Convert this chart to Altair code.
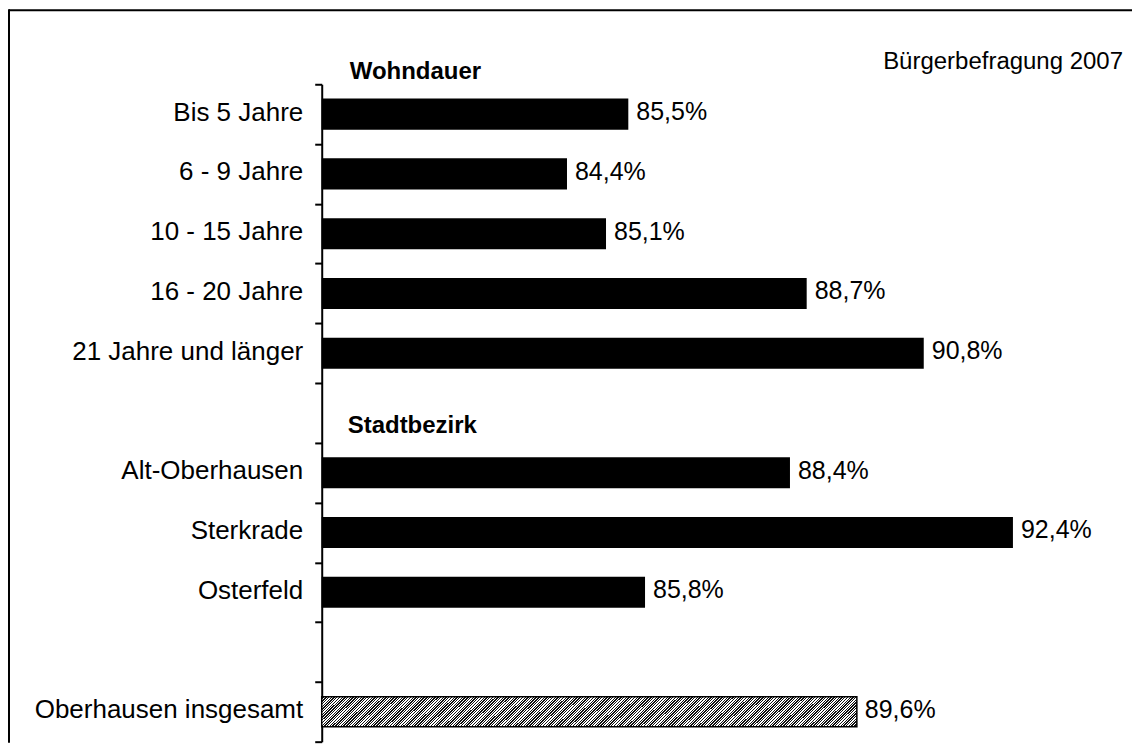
import altair as alt
import pandas as pd

# ---------------- data ----------------
slots = ["Bis 5 Jahre", "6 - 9 Jahre", "10 - 15 Jahre", "16 - 20 Jahre",
         "21 Jahre und länger", " ", "Alt-Oberhausen", "Sterkrade",
         "Osterfeld", "  ", "Oberhausen insgesamt"]
bar_categories = ["Bis 5 Jahre", "6 - 9 Jahre", "10 - 15 Jahre", "16 - 20 Jahre",
                  "21 Jahre und länger", "Alt-Oberhausen", "Sterkrade",
                  "Osterfeld", "Oberhausen insgesamt"]
bar_values = [85.5, 84.4, 85.1, 88.7, 90.8, 88.4, 92.4, 85.8, 89.6]
bar_kind = ["group"] * 8 + ["total"]
group_headers = ["Wohndauer", "Stadtbezirk"]
source_note = ["Bürgerbefragung 2007"]
x_min, x_max = 80, 94.5

df = pd.DataFrame({"cat": bar_categories, "value": bar_values, "kind": bar_kind})
df["label"] = [f"{v:.1f}".replace(".", ",") + "%" for v in bar_values]

FONT = "Liberation Sans, Arial, Helvetica, sans-serif"
W, H = 809, 658

# hatch look for the total bar: hard-stop linear gradient (fine diagonal stripes)
stops = []
period, ink = 0.0048, 0.0024
t = 0.0
while t < 0.999:
    a = round(t, 5)
    b = round(min(t + period - ink, 1.0), 5)
    c = round(min(t + period, 1.0), 5)
    stops += [{"offset": a, "color": "#ffffff"}, {"offset": b, "color": "#ffffff"},
              {"offset": b, "color": "#111111"}, {"offset": c, "color": "#111111"}]
    t += period
hatch = {"gradient": "linear", "x1": 0, "y1": 0, "x2": 1.06, "y2": 0.0596, "stops": stops}

yenc = alt.Y(
    "cat:N",
    scale=alt.Scale(domain=slots, paddingInner=0, paddingOuter=0),
    axis=alt.Axis(
        title=None, tickBand="extent",
        labelFont=FONT, labelFontSize=26, labelColor="black", labelPadding=12,
        labelLimit=400, labelOffset=-2, tickSize=7, tickWidth=2, tickColor="black",
        domainColor="black", domainWidth=2, grid=False,
    ),
)
xenc = alt.X("value:Q", scale=alt.Scale(domain=[x_min, x_max], zero=False, nice=False), axis=None)

base = alt.Chart(df)
bars = base.transform_filter(alt.datum.kind == "group").mark_bar(
    color="black", height={"band": 0.52}).encode(x=xenc, x2=alt.datum(x_min), y=yenc)
total = base.transform_filter(alt.datum.kind == "total").mark_bar(
    fill=hatch, stroke="black", strokeWidth=1.5, height={"band": 0.5}
).encode(x=xenc, x2=alt.datum(x_min), y=yenc)
labels = base.mark_text(align="left", baseline="middle", dx=8, dy=-2, font=FONT, fontSize=25,
                        color="black").encode(x=xenc, y=yenc, text="label:N")

one = pd.DataFrame({"k": [0]})
frame_top = alt.Chart(one).mark_rule(color="black", strokeWidth=2).encode(
    x=alt.value(-313), x2=alt.value(811), y=alt.value(-74))
frame_left = alt.Chart(one).mark_rule(color="black", strokeWidth=2).encode(
    x=alt.value(-313), y=alt.value(-75), y2=alt.value(659))

h1 = alt.Chart(pd.DataFrame({"h": [group_headers[0]]})).mark_text(
    align="left", baseline="middle", font=FONT, fontSize=24, fontWeight="bold", color="black"
).encode(x=alt.value(28), y=alt.value(-12.5), text="h:N")
h2 = alt.Chart(pd.DataFrame({"h": [group_headers[1]]})).mark_text(
    align="left", baseline="middle", font=FONT, fontSize=24, fontWeight="bold", color="black"
).encode(x=alt.value(26), y=alt.value(342), text="h:N")
note = alt.Chart(pd.DataFrame({"h": source_note})).mark_text(
    align="right", baseline="middle", font=FONT, fontSize=24, color="black"
).encode(x=alt.value(802), y=alt.value(-22), text="h:N")

chart = alt.layer(bars, total, labels, frame_top, frame_left, h1, h2, note).properties(
    width=W, height=H,
    padding={"left": 0, "top": 0, "right": 0, "bottom": 0},
).configure_view(stroke=None)

chart.save("out.html", embed_options={"renderer": "svg", "actions": False})
